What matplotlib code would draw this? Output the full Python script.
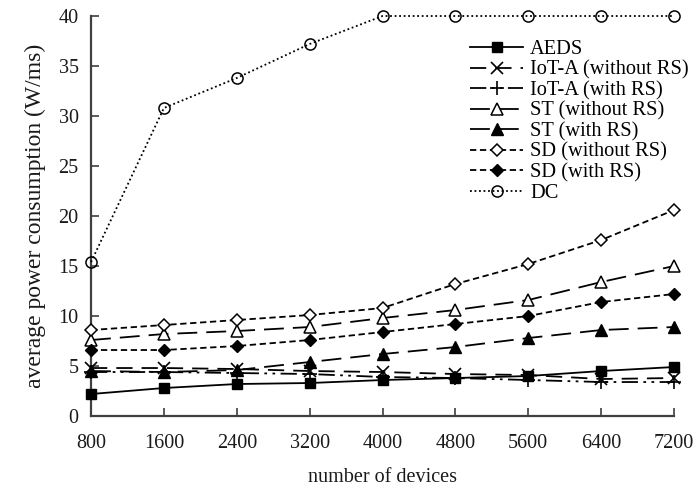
import matplotlib
matplotlib.use("Agg")
import matplotlib.pyplot as plt

plt.rcParams['font.family'] = ['Liberation Serif', 'DejaVu Serif']
plt.rcParams['mathtext.fontset'] = 'stix'

devices = [800, 1600, 2400, 3200, 4000, 4800, 5600, 6400, 7200]

aeds = [2.2, 2.8, 3.2, 3.3, 3.6, 3.8, 4.0, 4.5, 4.9]
iota_without_rs = [4.8, 4.8, 4.7, 4.5, 4.4, 4.2, 4.1, 3.7, 3.8]
iota_with_rs = [4.4, 4.4, 4.3, 4.2, 3.9, 3.8, 3.6, 3.4, 3.4]
st_without_rs = [7.6, 8.2, 8.5, 8.9, 9.8, 10.6, 11.6, 13.4, 15.0]
st_with_rs = [4.5, 4.4, 4.6, 5.4, 6.2, 6.9, 7.8, 8.6, 8.9]
sd_without_rs = [8.6, 9.1, 9.6, 10.1, 10.8, 13.2, 15.2, 17.6, 20.6]
sd_with_rs = [6.6, 6.6, 7.0, 7.6, 8.4, 9.2, 10.0, 11.4, 12.2]
dc = [15.4, 30.8, 33.8, 37.2, 40.0, 40.0, 40.0, 40.0, 40.0]

fig = plt.figure(figsize=(6.97, 4.91), dpi=100)
ax = fig.add_axes([0.1306, 0.1527, 0.8365, 0.8147])

k = 'black'
common = dict(color=k, linewidth=1.3, clip_on=False, zorder=3)

ax.plot(devices, aeds, linestyle='-', marker='s', markersize=7.5,
        markerfacecolor=k, markeredgecolor=k, label='AEDS', **common)
ax.plot(devices, iota_without_rs, linestyle=(0, (9, 5)), marker='x', markersize=9,
        markeredgewidth=1.2, markeredgecolor=k, label='IoT-A (without RS)', **common)
ax.plot(devices, iota_with_rs, linestyle=(0, (9, 3, 1.5, 3, 1.5, 3)), marker='+',
        markersize=10, markeredgewidth=1.2, markeredgecolor=k,
        label='IoT-A (with RS)', **common)
ax.plot(devices, st_without_rs, linestyle=(0, (11, 5)), marker='^', markersize=9,
        markerfacecolor='white', markeredgecolor=k, markeredgewidth=1.1,
        label='ST (without RS)', **common)
ax.plot(devices, st_with_rs, linestyle=(0, (11, 5)), marker='^', markersize=8,
        markerfacecolor=k, markeredgecolor=k, label='ST (with RS)', **common)
ax.plot(devices, sd_without_rs, linestyle=(0, (3.5, 2)), marker='D', markersize=6.5,
        markerfacecolor='white', markeredgecolor=k, markeredgewidth=1.1,
        label='SD (without RS)', **common)
ax.plot(devices, sd_with_rs, linestyle=(0, (3.5, 2)), marker='D', markersize=6,
        markerfacecolor=k, markeredgecolor=k, label='SD (with RS)', **common)
ax.plot(devices, dc, linestyle=(0, (1, 1.5)), marker='o', markersize=8,
        markerfacecolor='none', markeredgecolor=k, markeredgewidth=1.1,
        label='DC', **common)

ax.set_xlim(800, 7200)
ax.set_ylim(0, 40)
ax.set_xticks(devices)
ax.set_xticklabels([str(d) for d in devices])
ax.set_yticks(range(0, 41, 5))

for side in ('top', 'right'):
    ax.spines[side].set_visible(False)
for side in ('left', 'bottom'):
    ax.spines[side].set_color('#404040')
    ax.spines[side].set_linewidth(1.6)

ax.tick_params(axis='both', direction='in', length=6, width=1.2, color='#404040',
               labelsize=14.5, labelcolor='#1a1a1a')
ax.tick_params(axis='x', pad=13)
ax.tick_params(axis='y', pad=9)

ax.set_xlabel('number of devices', fontsize=14.5, labelpad=11, color='#1a1a1a')
ax.set_ylabel('average power consumption (W/ms)', fontsize=17, labelpad=9,
              color='#1a1a1a')

leg = ax.legend(loc='upper left', bbox_to_anchor=(470 / 697, 1 - 40 / 491),
                bbox_transform=fig.transFigure, frameon=False,
                fontsize=14.7, handlelength=2.6, handletextpad=0.35,
                labelspacing=0.06, borderpad=0, borderaxespad=0)

fig.savefig('out.png', dpi=100)
